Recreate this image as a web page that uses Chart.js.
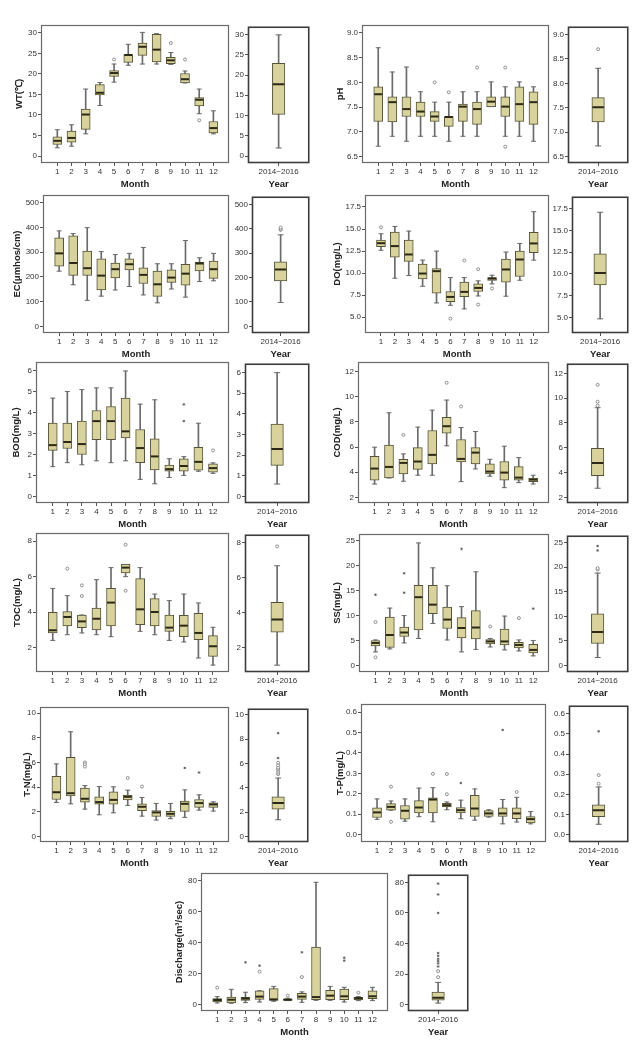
<!DOCTYPE html>
<html><head>
<meta charset="UTF-8">
<title>Water quality - monthly box plots</title>
<style>
  body { margin: 0; background: #fff; }
  #page { position: relative; width: 640px; height: 1044px; overflow: hidden; background: #fff; }
  #page canvas { position: absolute; }
</style>
<script src="https://cdn.jsdelivr.net/npm/chart.js"></script>
</head>
<body>
<div id="page"></div>
<script>
// ---- data ----
const MONTHS = [1, 2, 3, 4, 5, 6, 7, 8, 9, 10, 11, 12];
const YEAR_LABEL = '2014~2016';

// WT
const WT_MIN = [2.0, 2.4, 5.4, 12.3, 18.0, 22.1, 22.4, 22.4, 22.3, 17.8, 10.3, 5.4];
const WT_Q1  = [2.8, 3.4, 6.5, 14.9, 19.4, 22.8, 24.5, 22.9, 22.5, 17.8, 12.2, 5.6];
const WT_MED = [3.7, 4.4, 10.1, 15.4, 20.2, 24.6, 26.6, 25.9, 23.3, 18.7, 13.7, 6.8];
const WT_Q3  = [4.7, 6.1, 11.4, 17.4, 20.8, 24.7, 27.5, 29.6, 24.0, 20.1, 14.2, 8.4];
const WT_MAX = [6.4, 7.6, 16.3, 17.9, 22.4, 27.2, 30.1, 29.8, 25.2, 20.7, 16.3, 11.0];
const WT_OUT = [[5, 23.5], [9, 27.5], [10, 23.5], [11, 8.7]];
const WT_YEAR = [2.0, 10.3, 17.7, 22.9, 29.9];
const WT_TICKS = [0, 5, 10, 15, 20, 25, 30];

// pH
const PH_MIN = [6.71, 6.91, 6.81, 6.91, 6.91, 6.81, 6.91, 6.91, 7.51, 6.91, 6.91, 6.81];
const PH_Q1  = [7.21, 7.2, 7.31, 7.31, 7.21, 7.11, 7.21, 7.15, 7.51, 7.31, 7.21, 7.15];
const PH_MED = [7.76, 7.6, 7.46, 7.41, 7.31, 7.3, 7.51, 7.46, 7.61, 7.51, 7.56, 7.6];
const PH_Q3  = [7.91, 7.71, 7.71, 7.6, 7.41, 7.31, 7.56, 7.6, 7.71, 7.71, 7.91, 7.81];
const PH_MAX = [8.7, 8.21, 8.31, 7.81, 7.6, 7.6, 7.81, 7.81, 8.01, 7.91, 8.01, 7.91];
const PH_OUT = [[5, 8.0], [6, 7.8], [8, 8.3], [10, 8.3], [10, 6.7]];
const PH_YEAR = [6.72, 7.21, 7.51, 7.71, 8.31];
const PH_YEAR_OUT = [8.7];
const PH_TICKS = [6.5, 7.0, 7.5, 8.0, 8.5, 9.0];

// EC
const EC_MIN = [223, 168, 105, 122, 147, 161, 127, 95, 151, 118, 181, 184];
const EC_Q1  = [243, 206, 206, 147, 196, 228, 173, 121, 178, 166, 224, 194];
const EC_MED = [295, 256, 235, 205, 231, 251, 208, 170, 197, 213, 254, 231];
const EC_Q3  = [358, 366, 304, 273, 256, 273, 237, 223, 228, 251, 259, 264];
const EC_MAX = [386, 375, 399, 302, 290, 295, 319, 253, 253, 347, 277, 295];
const EC_YEAR = [98, 186, 233, 264, 375];
const EC_YEAR_OUT = [395, 400, 405];
const EC_TICKS = [0, 100, 200, 300, 400, 500];

// DO
const DO_MIN = [12.6, 9.43, 9.73, 8.52, 6.63, 6.36, 5.95, 7.42, 8.79, 7.39, 9.2, 11.48];
const DO_Q1  = [13.0, 11.8, 11.33, 9.36, 7.73, 6.78, 7.35, 7.92, 9.17, 8.98, 9.62, 12.31];
const DO_MED = [13.4, 13.07, 12.12, 9.96, 10.23, 7.31, 7.88, 8.33, 9.39, 10.42, 11.55, 13.37];
const DO_Q3  = [13.75, 14.66, 13.75, 11.02, 10.53, 7.92, 9.0, 8.79, 9.5, 11.59, 12.5, 14.62];
const DO_MAX = [14.47, 15.3, 14.77, 11.48, 12.5, 9.5, 9.5, 9.13, 9.77, 12.39, 13.37, 16.97];
const DO_OUT = [[1, 15.2], [6, 4.85], [7, 11.44], [8, 10.45], [8, 6.44], [9, 8.26]];
const DO_YEAR = [4.85, 8.75, 10.11, 12.31, 17.08];
const DO_TICKS = [5.0, 7.5, 10.0, 12.5, 15.0, 17.5];

// BOD
const BOD_MIN = [1.42, 1.61, 1.51, 1.7, 1.61, 1.7, 0.81, 0.6, 0.9, 1.0, 1.2, 1.1];
const BOD_Q1  = [2.2, 2.29, 2.0, 2.71, 2.71, 2.8, 1.61, 1.26, 1.2, 1.2, 1.25, 1.15];
const BOD_MED = [2.45, 2.6, 2.5, 3.6, 3.6, 3.11, 2.31, 1.91, 1.3, 1.45, 1.65, 1.35];
const BOD_Q3  = [3.5, 3.5, 3.6, 4.11, 4.3, 4.7, 3.2, 2.75, 1.5, 1.8, 2.35, 1.55];
const BOD_MAX = [4.7, 5.02, 5.11, 5.19, 5.19, 6.0, 4.41, 4.62, 1.8, 1.9, 3.5, 1.6];
const BOD_OUT = [[12, 2.2]];
const BOD_EXT = [[10, 4.4], [10, 3.6]];
const BOD_YEAR = [0.6, 1.5, 2.3, 3.5, 6.0];
const BOD_TICKS = [0, 1, 2, 3, 4, 5, 6];

// COD
const COD_MIN = [3.06, 3.54, 3.28, 3.76, 3.76, 6.1, 3.25, 4.26, 3.68, 2.77, 3.17, 3.06];
const COD_Q1  = [3.36, 3.54, 3.86, 4.23, 4.66, 7.11, 4.82, 4.66, 3.86, 3.36, 3.36, 3.25];
const COD_MED = [4.29, 4.42, 4.74, 4.85, 5.38, 7.66, 5.06, 5.56, 4.05, 3.97, 3.57, 3.41];
const COD_Q3  = [5.27, 6.15, 5.03, 5.96, 7.32, 8.36, 6.6, 5.96, 4.66, 4.85, 4.45, 3.54];
const COD_MAX = [5.99, 8.73, 5.46, 7.59, 8.94, 9.74, 7.56, 7.24, 5.03, 6.07, 5.16, 3.76];
const COD_OUT = [[3, 6.97], [6, 11.12], [7, 9.23]];
const COD_YEAR = [2.74, 3.76, 4.77, 5.96, 9.23];
const COD_YEAR_OUT = [11.07, 9.71, 9.39];
const COD_TICKS = [2, 4, 6, 8, 10, 12];

// TOC
const TOC_MIN = [2.41, 2.73, 2.83, 2.73, 2.62, 6.0, 2.92, 2.73, 2.41, 2.32, 1.42, 1.02];
const TOC_Q1  = [2.83, 3.22, 3.13, 3.0, 3.22, 6.21, 3.3, 3.22, 2.92, 2.62, 2.45, 1.51];
const TOC_MED = [2.98, 3.73, 3.48, 3.63, 4.54, 6.51, 4.16, 4.01, 3.13, 3.24, 2.83, 2.08];
const TOC_Q3  = [3.99, 4.03, 3.84, 4.23, 5.34, 6.69, 5.89, 4.76, 3.84, 3.82, 3.93, 2.68];
const TOC_MAX = [5.34, 4.93, 3.84, 5.83, 6.51, 6.69, 6.51, 5.02, 4.65, 5.02, 4.52, 3.15];
const TOC_OUT = [[2, 6.45], [3, 5.51], [3, 4.91], [6, 5.21], [6, 7.8]];
const TOC_YEAR = [1.02, 2.9, 3.62, 4.61, 6.69];
const TOC_YEAR_OUT = [7.8];
const TOC_TICKS = [2, 4, 6, 8];

// SS
const SS_MIN = [2.7, 3.3, 4.5, 5.4, 8.4, 5.1, 2.7, 3.2, 3.7, 3.1, 2.9, 1.9];
const SS_Q1  = [3.9, 3.6, 5.8, 7.1, 10.4, 7.4, 5.5, 5.3, 4.3, 4.1, 3.5, 2.5];
const SS_MED = [4.5, 6.1, 6.6, 13.7, 12.2, 9.2, 7.5, 7.6, 4.8, 4.8, 4.1, 3.1];
const SS_Q3  = [5.0, 9.7, 7.7, 16.1, 16.1, 11.7, 9.6, 11.0, 5.2, 7.3, 4.6, 4.2];
const SS_MAX = [5.1, 11.5, 10.0, 24.6, 19.6, 16.0, 11.8, 18.8, 5.4, 9.9, 5.1, 5.0];
const SS_OUT = [[1, 8.7], [1, 1.6], [9, 7.8], [11, 9.5]];
const SS_EXT = [[1, 14.2], [3, 18.5], [3, 14.6], [7, 23.4], [12, 11.4]];
const SS_YEAR = [1.6, 4.5, 6.8, 10.5, 18.8];
const SS_YEAR_OUT = [19.5, 19.8];
const SS_YEAR_EXT = [24.3, 23.4];
const SS_TICKS = [0, 5, 10, 15, 20, 25];

// T-N
const TN_MIN = [2.75, 2.64, 2.21, 1.75, 1.91, 2.51, 1.64, 1.32, 1.43, 1.54, 2.13, 2.05];
const TN_Q1  = [2.99, 3.29, 2.78, 2.61, 2.61, 2.96, 2.08, 1.62, 1.62, 2.02, 2.35, 2.35];
const TN_MED = [3.58, 3.5, 3.05, 2.78, 2.96, 3.21, 2.4, 1.94, 1.83, 2.64, 2.7, 2.59];
const TN_Q3  = [4.88, 6.41, 3.91, 3.21, 3.61, 3.34, 2.64, 2.1, 2.02, 2.86, 2.99, 2.72];
const TN_MAX = [5.88, 8.49, 4.12, 4.04, 4.02, 3.75, 3.15, 2.67, 2.67, 3.77, 3.37, 2.8];
const TN_OUT = [[3, 6.0], [3, 5.85], [3, 5.66], [6, 4.74], [7, 4.04]];
const TN_EXT = [[10, 5.55], [11, 5.18]];
const TN_YEAR = [1.37, 2.24, 2.75, 3.26, 4.8];
const TN_YEAR_OUT = [5.12, 5.25, 5.4, 5.55, 5.66, 5.85, 6.06];
const TN_YEAR_EXT = [8.49, 6.44];
const TN_TICKS = [0, 2, 4, 6, 8, 10];

// T-P
const TP_MIN = [0.075, 0.12, 0.066, 0.088, 0.063, 0.122, 0.078, 0.071, 0.086, 0.053, 0.062, 0.053];
const TP_Q1  = [0.084, 0.12, 0.076, 0.107, 0.107, 0.136, 0.107, 0.089, 0.089, 0.089, 0.078, 0.058];
const TP_MED = [0.109, 0.136, 0.117, 0.133, 0.172, 0.144, 0.12, 0.128, 0.104, 0.104, 0.104, 0.076];
const TP_Q3  = [0.131, 0.152, 0.143, 0.167, 0.18, 0.154, 0.133, 0.193, 0.118, 0.131, 0.131, 0.088];
const TP_MAX = [0.175, 0.165, 0.175, 0.228, 0.23, 0.16, 0.169, 0.224, 0.122, 0.172, 0.183, 0.113];
const TP_OUT = [[2, 0.235], [2, 0.063], [5, 0.298], [6, 0.297], [6, 0.198], [11, 0.209]];
const TP_EXT = [[7, 0.253], [10, 0.513]];
const TP_YEAR = [0.052, 0.09, 0.121, 0.149, 0.237];
const TP_YEAR_OUT = [0.296, 0.253];
const TP_YEAR_EXT = [0.513];
const TP_TICKS = [0.0, 0.1, 0.2, 0.3, 0.4, 0.5, 0.6];

// Discharge
const DIS_MIN = [1.1, 0.9, 1.3, 1.7, 2.2, 2.6, 1.5, 2.8, 2.8, 1.7, 2.6, 2.6];
const DIS_Q1  = [1.7, 1.1, 2.8, 3.4, 2.8, 2.8, 3.4, 3.2, 3.2, 3.2, 3.0, 3.9];
const DIS_MED = [3.0, 3.2, 3.9, 5.2, 3.4, 3.2, 5.2, 4.9, 5.8, 5.4, 4.1, 5.4];
const DIS_Q3  = [3.9, 4.9, 4.7, 9.0, 10.3, 3.7, 7.3, 37.2, 9.2, 10.1, 4.7, 9.0];
const DIS_MAX = [5.2, 9.9, 8.0, 9.0, 11.8, 4.1, 8.2, 79, 11.8, 11.2, 5.2, 11.2];
const DIS_OUT = [[1, 11.0], [4, 21.3], [6, 5.8], [7, 17.8], [11, 7.7]];
const DIS_EXT = [[3, 27.3], [4, 25.2], [7, 33.8], [10, 30.3], [10, 28.4]];
const DIS_YEAR = [1.1, 3.0, 4.5, 8.2, 14.6];
const DIS_YEAR_OUT = [18, 22];
const DIS_YEAR_EXT = [79.2, 72.1, 60, 33.8, 32, 30, 28.5, 27, 25];
const DIS_TICKS = [0, 20, 40, 60, 80];

// ---- panels: variable + where its two plot frames sit on the page ----
const VARS = [
  { title: 'WT(\u2103)', min: WT_MIN, q1: WT_Q1, med: WT_MED, q3: WT_Q3, max: WT_MAX, out: WT_OUT, year: WT_YEAR,
    ticks: WT_TICKS, dec: 0, range: [-1.7, 31.9],
    mon: { L: 41, T: 25, R: 232, B: 163, titleX: 20 }, yr: { L: 248, T: 25, R: 314, B: 163 } },
  { title: 'pH', min: PH_MIN, q1: PH_Q1, med: PH_MED, q3: PH_Q3, max: PH_MAX, out: PH_OUT, year: PH_YEAR, yearOut: PH_YEAR_OUT,
    ticks: PH_TICKS, dec: 1, range: [6.37, 9.16],
    mon: { L: 362, T: 25, R: 552, B: 163, titleX: 341 }, yr: { L: 568, T: 25, R: 633, B: 163 } },
  { title: 'EC(\u03bcmhos/cm)', min: EC_MIN, q1: EC_Q1, med: EC_MED, q3: EC_Q3, max: EC_MAX, out: [], year: EC_YEAR, yearOut: EC_YEAR_OUT,
    ticks: EC_TICKS, dec: 0, range: [-27, 531],
    mon: { L: 43, T: 195, R: 232, B: 333, titleX: 18 }, yr: { L: 252, T: 195, R: 314, B: 333 } },
  { title: 'DO(mg/L)', min: DO_MIN, q1: DO_Q1, med: DO_MED, q3: DO_Q3, max: DO_MAX, out: DO_OUT, year: DO_YEAR,
    ticks: DO_TICKS, dec: 1, range: [3.22, 18.86],
    mon: { L: 365, T: 195, R: 552, B: 333, titleX: 338 }, yr: { L: 572, T: 195, R: 633, B: 333 } },
  { title: 'BOD(mg/L)', min: BOD_MIN, q1: BOD_Q1, med: BOD_MED, q3: BOD_Q3, max: BOD_MAX, out: BOD_OUT, ext: BOD_EXT, year: BOD_YEAR,
    ticks: BOD_TICKS, dec: 0, range: [-0.32, 6.43],
    mon: { L: 36, T: 362, R: 232, B: 503, titleX: 17 }, yr: { L: 245, T: 362, R: 314, B: 503 } },
  { title: 'COD(mg/L)', min: COD_MIN, q1: COD_Q1, med: COD_MED, q3: COD_Q3, max: COD_MAX, out: COD_OUT, year: COD_YEAR, yearOut: COD_YEAR_OUT,
    ticks: COD_TICKS, dec: 0, range: [1.55, 12.77],
    mon: { L: 358, T: 362, R: 552, B: 503, titleX: 338 }, yr: { L: 567, T: 362, R: 633, B: 503 } },
  { title: 'TOC(mg/L)', min: TOC_MIN, q1: TOC_Q1, med: TOC_MED, q3: TOC_Q3, max: TOC_MAX, out: TOC_OUT, year: TOC_YEAR, yearOut: TOC_YEAR_OUT,
    ticks: TOC_TICKS, dec: 0, range: [0.63, 8.46],
    mon: { L: 36, T: 533, R: 232, B: 672, titleX: 18 }, yr: { L: 245, T: 533, R: 314, B: 672 } },
  { title: 'SS(mg/L)', min: SS_MIN, q1: SS_Q1, med: SS_MED, q3: SS_Q3, max: SS_MAX, out: SS_OUT, ext: SS_EXT, year: SS_YEAR,
    yearOut: SS_YEAR_OUT, yearExt: SS_YEAR_EXT, ticks: SS_TICKS, dec: 0, range: [-1.34, 26.4],
    mon: { L: 359, T: 534, R: 552, B: 672, titleX: 338 }, yr: { L: 567, T: 534, R: 633, B: 672 } },
  { title: 'T-N(mg/L)', min: TN_MIN, q1: TN_Q1, med: TN_MED, q3: TN_Q3, max: TN_MAX, out: TN_OUT, ext: TN_EXT, year: TN_YEAR,
    yearOut: TN_YEAR_OUT, yearExt: TN_YEAR_EXT, ticks: TN_TICKS, dec: 0, range: [-0.46, 10.5],
    mon: { L: 40, T: 707, R: 232, B: 842, titleX: 28 }, yr: { L: 248, T: 707, R: 313, B: 842 } },
  { title: 'T-P(mg/L)', min: TP_MIN, q1: TP_Q1, med: TP_MED, q3: TP_Q3, max: TP_MAX, out: TP_OUT, ext: TP_EXT, year: TP_YEAR,
    yearOut: TP_YEAR_OUT, yearExt: TP_YEAR_EXT, ticks: TP_TICKS, dec: 1, range: [-0.036, 0.64],
    mon: { L: 361, T: 704, R: 549, B: 842, titleX: 341 }, yr: { L: 569, T: 704, R: 633, B: 842 } },
  { title: 'Discharge(m\u00b3/sec)', min: DIS_MIN, q1: DIS_Q1, med: DIS_MED, q3: DIS_Q3, max: DIS_MAX, out: DIS_OUT, ext: DIS_EXT,
    year: DIS_YEAR, yearOut: DIS_YEAR_OUT, yearExt: DIS_YEAR_EXT, ticks: DIS_TICKS, dec: 0, range: [-4.1, 85],
    mon: { L: 201, T: 873, R: 391, B: 1011, titleX: 180 }, yr: { L: 408, T: 873, R: 473, B: 1011 } }
];

Chart.defaults.font.family = "'Liberation Sans', Arial, sans-serif";
Chart.defaults.color = '#333';

const BOX_FILL = '#d8d39c';
const BOX_EDGE = '#56533a';
const MEDIAN = '#2b2815';
const WHISKER = '#6b6b6b';
const TITLE_FONT = { size: 9.5, weight: 'bold' };
const TICK_FONT = { size: 8 };

const framePlugin = {
  id: 'frame',
  afterDatasetsDraw(chart, args, opts) {
    const a = chart.chartArea, ctx = chart.ctx;
    ctx.save();
    ctx.strokeStyle = opts.color;
    ctx.lineWidth = opts.width;
    ctx.strokeRect(a.left + 0.5, a.top + 0.5, a.right - a.left - 1, a.bottom - a.top - 1);
    ctx.restore();
  }
};

function boxPanel(v, monthly) {
  const geo = monthly ? v.mon : v.yr;
  const lh = TITLE_FONT.size * 1.2;
  const left = Math.round(monthly ? geo.titleX - lh / 2 : geo.L - 22);
  const top = geo.T - 6;
  const xH = Math.round(21 + lh / 2);
  const w = geo.R + 3 - left;
  const h = geo.B + xH - top;

  const cv = document.createElement('canvas');
  cv.width = w; cv.height = h;
  cv.style.left = left + 'px'; cv.style.top = top + 'px';
  cv.style.width = w + 'px'; cv.style.height = h + 'px';
  document.getElementById('page').appendChild(cv);

  const xs = monthly ? MONTHS : [1];
  const lo = monthly ? v.min : [v.year[0]];
  const q1 = monthly ? v.q1 : [v.year[1]];
  const md = monthly ? v.med : [v.year[2]];
  const q3 = monthly ? v.q3 : [v.year[3]];
  const hi = monthly ? v.max : [v.year[4]];
  const outs = monthly ? (v.out || []).map(p => ({ x: p[0], y: p[1] }))
                       : (v.yearOut || []).map(y => ({ x: 1, y }));
  const exts = monthly ? (v.ext || []).map(p => ({ x: p[0], y: p[1] }))
                       : (v.yearExt || []).map(y => ({ x: 1, y }));
  const boxW = monthly ? 9 : 12.5;
  const capR = monthly ? 2.5 : 3;

  new Chart(cv, {
    type: 'bar',
    data: {
      datasets: [
        { type: 'line', showLine: false, data: xs.map((x, i) => ({ x, y: md[i] })),
          pointStyle: 'line', pointRadius: boxW / 2 - 0.5, pointBorderWidth: 2, pointBorderColor: MEDIAN },
        { type: 'line', showLine: false,
          data: xs.map((x, i) => ({ x, y: lo[i] })).concat(xs.map((x, i) => ({ x, y: hi[i] }))),
          pointStyle: 'line', pointRadius: capR, pointBorderWidth: 1, pointBorderColor: WHISKER },
        { type: 'line', showLine: false, data: outs,
          pointStyle: 'circle', pointRadius: 1.5, pointBorderWidth: 0.8,
          pointBackgroundColor: '#fff', pointBorderColor: '#777' },
        { type: 'line', showLine: false, data: exts,
          pointStyle: 'star', pointRadius: 1.3, pointBorderWidth: 0.7, pointBorderColor: '#555' },
        { data: xs.map((x, i) => ({ x, y: [q1[i], q3[i]] })), barThickness: boxW, grouped: false,
          backgroundColor: BOX_FILL, borderColor: BOX_EDGE, borderWidth: 1, borderSkipped: false },
        { data: xs.map((x, i) => ({ x, y: [lo[i], q1[i]] })), barThickness: 1, grouped: false,
          backgroundColor: WHISKER, borderWidth: 0 },
        { data: xs.map((x, i) => ({ x, y: [q3[i], hi[i]] })), barThickness: 1, grouped: false,
          backgroundColor: WHISKER, borderWidth: 0 }
      ]
    },
    options: {
      responsive: false,
      animation: false,
      events: [],
      layout: { padding: { top: 6, right: 3, bottom: 0, left: 0 } },
      plugins: {
        legend: { display: false },
        tooltip: { enabled: false },
        frame: monthly ? { color: '#6a6a6a', width: 1.2 } : { color: '#3c3c3c', width: 1.6 }
      },
      scales: {
        x: {
          type: 'linear', offset: false,
          min: monthly ? -0.15 : 0, max: monthly ? 13.1 : 2,
          afterBuildTicks: s => { s.ticks = xs.map(value => ({ value })); },
          afterFit: s => { s.height = xH; },
          ticks: { callback: val => monthly ? String(val) : YEAR_LABEL, font: TICK_FONT, color: '#333',
                   padding: 1, maxRotation: 0, autoSkip: false },
          grid: { drawOnChartArea: false, tickLength: 3, color: '#555', offset: false },
          border: { display: false },
          title: { display: true, text: monthly ? 'Month' : 'Year', font: TITLE_FONT, color: '#222', padding: 0 }
        },
        y: {
          type: 'linear', min: v.range[0], max: v.range[1],
          afterBuildTicks: s => { s.ticks = v.ticks.map(value => ({ value })); },
          afterFit: s => { s.width = geo.L - left; },
          ticks: { callback: val => Number(val).toFixed(v.dec), font: TICK_FONT, color: '#333', padding: 1 },
          grid: { drawOnChartArea: false, tickLength: 3, color: '#555' },
          border: { display: false },
          title: { display: monthly, text: v.title, font: TITLE_FONT, color: '#222', padding: 0 }
        }
      }
    },
    plugins: [framePlugin]
  });
}

VARS.forEach(v => { boxPanel(v, true); boxPanel(v, false); });
</script>
</body>
</html>
